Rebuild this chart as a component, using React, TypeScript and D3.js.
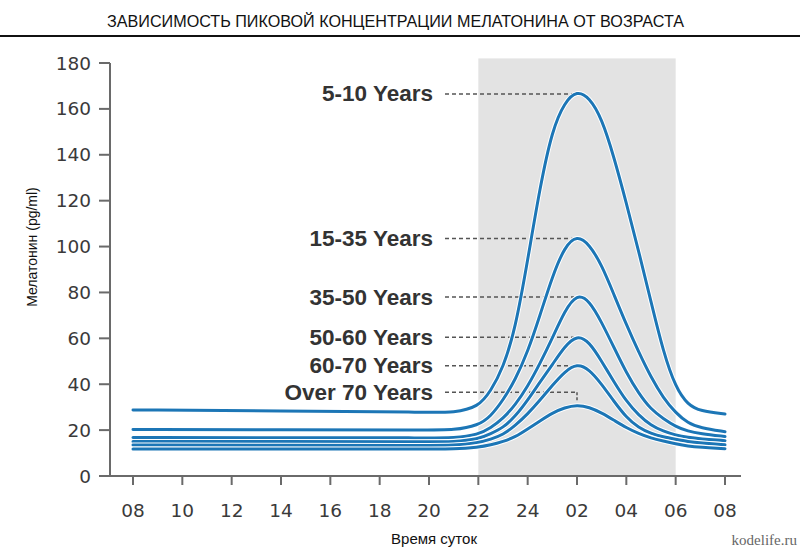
import React from "react";
import * as d3 from "d3";

// Hours elapsed since 08:00
const HOURS = [0, 6, 12, 13, 14, 14.5, 15, 15.5, 16, 16.5, 17, 17.5, 18, 18.5, 19, 19.5, 20, 20.5, 21, 21.5, 22, 22.5, 23, 24];

const AGE_5_10 = [28.8, 28.3, 27.8, 27.6, 30, 37, 47, 64, 94, 126, 151, 163, 168, 165, 156, 139, 119, 98, 76, 54, 38.5, 31, 28.3, 27];
const AGE_15_35 = [20.3, 20.1, 20, 20, 22, 26, 33, 42, 54, 70, 87, 100, 105, 101, 92, 79, 66, 54, 43, 34, 27.5, 23, 21, 19.3];
const AGE_35_50 = [16.8, 16.7, 16.6, 16.6, 18, 21, 25, 31, 39, 49, 60, 72, 79.5, 76.5, 67, 56, 45, 36, 29, 25, 21.5, 19.5, 18.5, 17.2];
const AGE_50_60 = [15.0, 15.0, 14.9, 14.9, 16, 18.5, 21, 26, 33, 41, 48.5, 56.5, 61.5, 58.5, 50, 41, 32.5, 26.5, 22, 19.5, 17.8, 16.8, 16.2, 15.4];
const AGE_60_70 = [13.5, 13.4, 13.3, 13.3, 14.5, 16, 18, 22, 27, 33, 39.5, 45.5, 49, 46.5, 40, 32.5, 25.5, 21, 18.5, 17, 16, 15, 14.4, 13.6];
const AGE_OVER_70 = [11.8, 11.8, 11.7, 11.7, 12.5, 13.5, 15, 17, 20.5, 24, 27.5, 29.8, 31, 30, 27.5, 24.3, 21, 18.5, 16.5, 15.2, 14, 13, 12.5, 11.9];

const SERIES = [AGE_5_10, AGE_15_35, AGE_35_50, AGE_50_60, AGE_60_70, AGE_OVER_70];
const SERIES_LABELS = ["5-10 Years", "15-35 Years", "35-50 Years", "50-60 Years", "60-70 Years", "Over 70 Years"];
// level (pg/ml) at which each label's leader line runs
const LABEL_LEVELS = [166.5, 103.5, 78, 60.5, 48, 36.5];
const PEAK_HOUR = 18;

const X_TICKS = [0, 2, 4, 6, 8, 10, 12, 14, 16, 18, 20, 22, 24];
const X_TICK_LABELS = ["08", "10", "12", "14", "16", "18", "20", "22", "24", "02", "04", "06", "08"];
const Y_TICKS = [0, 20, 40, 60, 80, 100, 120, 140, 160, 180];
const NIGHT_BAND = [14, 22];
const NIGHT_TOP = 182;

const TITLE = "ЗАВИСИМОСТЬ ПИКОВОЙ КОНЦЕНТРАЦИИ МЕЛАТОНИНА ОТ ВОЗРАСТА";
const Y_TITLE = "Мелатонин (pg/ml)";
const X_TITLE = "Время суток";
const WATERMARK = "kodelife.ru";

export default function App() {
  const W = 800;
  const H = 555;
  const x = d3.scaleLinear().domain([0, 24]).range([133, 725]);
  const y = d3.scaleLinear().domain([0, 180]).range([476, 63]);
  const axisLeft = 110;
  const axisBottom = 476;
  const axisColor = "#6a6a6a";
  const lineColor = "#1c76b6";
  const tickFont = "'DejaVu Sans', sans-serif";

  const line = d3
    .line<number>()
    .x((_, i) => x(HOURS[i]))
    .y((d) => y(d))
    .curve(d3.curveBasis);

  return (
    <div style={{ position: "absolute", left: 0, top: 0 }}>
      <svg width={W} height={H} style={{ display: "block", background: "#fff" }}>
        <text
          x={107}
          y={27}
          textLength={577}
          lengthAdjust="spacingAndGlyphs"
          fontFamily="'Liberation Sans', Arial, sans-serif"
          fontSize={16}
          fill="#111"
        >
          {TITLE}
        </text>
        <line x1={0} x2={W} y1={36} y2={36} stroke="#111" strokeWidth={1.8} />

        {/* night band */}
        <rect
          x={x(NIGHT_BAND[0])}
          y={y(NIGHT_TOP)}
          width={x(NIGHT_BAND[1]) - x(NIGHT_BAND[0])}
          height={axisBottom - y(NIGHT_TOP)}
          fill="#e3e3e3"
        />

        {/* axes */}
        <line x1={axisLeft} x2={axisLeft} y1={y(180)} y2={axisBottom} stroke={axisColor} strokeWidth={2} />
        <line x1={axisLeft} x2={741} y1={axisBottom} y2={axisBottom} stroke={axisColor} strokeWidth={2} />
        {Y_TICKS.map((t) => (
          <g key={"y" + t}>
            <line x1={99} x2={axisLeft} y1={y(t)} y2={y(t)} stroke={axisColor} strokeWidth={2} />
            <text
              x={91}
              y={y(t) + 6.5}
              textAnchor="end"
              fontFamily={tickFont}
              fontSize={18.5}
              fill="#3a3a3a"
            >
              {t}
            </text>
          </g>
        ))}
        {X_TICKS.map((t, i) => (
          <g key={"x" + i}>
            <line x1={x(t)} x2={x(t)} y1={axisBottom} y2={485} stroke={axisColor} strokeWidth={2} />
            <text
              x={x(t)}
              y={517}
              textAnchor="middle"
              fontFamily={tickFont}
              fontSize={18.5}
              fill="#3a3a3a"
            >
              {X_TICK_LABELS[i]}
            </text>
          </g>
        ))}

        {/* leader lines and labels */}
        {SERIES_LABELS.map((lab, i) => {
          const ly = y(LABEL_LEVELS[i]);
          const px = x(PEAK_HOUR);
          const isLast = i === SERIES_LABELS.length - 1;
          return (
            <g key={lab}>
              <line
                x1={445}
                x2={isLast ? px : px - 3}
                y1={ly}
                y2={ly}
                stroke="#555"
                strokeWidth={1.5}
                strokeDasharray="4 3"
              />
              {isLast && (
                <line
                  x1={px}
                  x2={px}
                  y1={ly}
                  y2={y(SERIES[i][HOURS.indexOf(PEAK_HOUR)]) - 4}
                  stroke="#555"
                  strokeWidth={1.5}
                  strokeDasharray="3 2"
                />
              )}
              <text
                x={433}
                y={ly + 7.5}
                textAnchor="end"
                fontFamily="'Liberation Sans', Arial, sans-serif"
                fontWeight="bold"
                fontSize={22.5}
                fill="#333"
              >
                {lab}
              </text>
            </g>
          );
        })}

        {/* curves */}
        {SERIES.map((s, i) => (
          <g key={"s" + i}>
            <path d={line(s) || ""} fill="none" stroke="#fff" strokeWidth={5} strokeLinecap="round" />
            <path d={line(s) || ""} fill="none" stroke={lineColor} strokeWidth={3} strokeLinecap="round" />
          </g>
        ))}

        <text
          x={33}
          y={247}
          transform="rotate(-90 33 247)"
          textAnchor="middle"
          dominantBaseline="middle"
          fontFamily="'Liberation Sans', Arial, sans-serif"
          fontSize={14}
          fill="#111"
        >
          {Y_TITLE}
        </text>
        <text
          x={434}
          y={544}
          textAnchor="middle"
          fontFamily="'Liberation Sans', Arial, sans-serif"
          fontSize={15}
          fill="#111"
        >
          {X_TITLE}
        </text>
        <text
          x={797}
          y={545}
          textAnchor="end"
          fontFamily="'Liberation Serif', 'Times New Roman', serif"
          fontSize={15}
          fill="#666"
        >
          {WATERMARK}
        </text>
      </svg>
    </div>
  );
}
